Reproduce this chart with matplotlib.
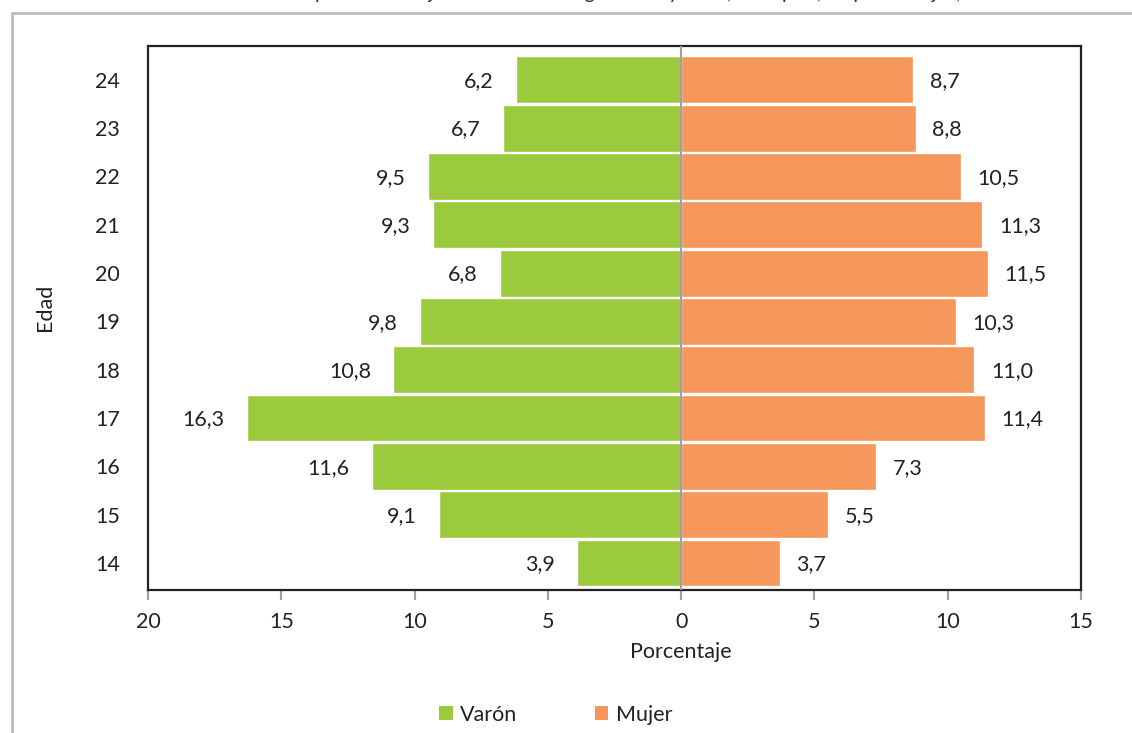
import matplotlib
matplotlib.use("Agg")
import matplotlib.pyplot as plt
from matplotlib.patches import Rectangle, Patch

plt.rcParams['font.family'] = ['Lato', 'DejaVu Sans']

edades = ["14", "15", "16", "17", "18", "19", "20", "21", "22", "23", "24"]
varon = [3.9, 9.1, 11.6, 16.3, 10.8, 9.8, 6.8, 9.3, 9.5, 6.7, 6.2]
mujer = [3.7, 5.5, 7.3, 11.4, 11.0, 10.3, 11.5, 11.3, 10.5, 8.8, 8.7]
xticks = [-20, -15, -10, -5, 0, 5, 10, 15]
xticklabels = ["20", "15", "10", "5", "0", "5", "10", "15"]

green = "#9BCA3C"
orange = "#F5965A"
txt = "#222222"
fs = 15.5

fig = plt.figure(figsize=(11.32, 7.33), dpi=100)
ax = fig.add_axes([148/1132, 1-590/733, (1081-148)/1132, (590-46)/733])

# outer frame
fig.patches.append(Rectangle((12/1132, -0.05), 1.2, 1-13/733+0.05, transform=fig.transFigure,
                             fill=False, edgecolor="#BBBBBB", linewidth=2, zorder=0))

# caption (cropped at top, as in the reference)
fig.text(25/1132, 1+1/733, "Gráfico 4.1:", color="#D6DB6A", fontsize=fs, va="baseline", ha="left")
fig.text(155/1132, 1+1/733, "Distribución de la población objeto de estudio según sexo y edad, total país, en porcentajes, 2019",
         color="#333333", fontsize=fs - 1, va="baseline", ha="left")

y = list(range(len(edades)))
ax.barh(y, [-v for v in varon], height=0.97, color=green, edgecolor="white", linewidth=1, zorder=2)
ax.barh(y, mujer, height=0.97, color=orange, edgecolor="white", linewidth=1, zorder=2)
ax.axvline(0, color="#A0A0A0", linewidth=1.5, zorder=3)

for i, (v, m) in enumerate(zip(varon, mujer)):
    ax.annotate(f"{v:.1f}".replace(".", ","), xy=(-v, i), xytext=(-16, -1), textcoords="offset points",
                ha="right", va="center", fontsize=fs, color=txt)
    ax.annotate(f"{m:.1f}".replace(".", ","), xy=(m, i), xytext=(12, -1), textcoords="offset points",
                ha="left", va="center", fontsize=fs, color=txt)

ax.set_xlim(-20, 15)
ax.set_ylim(-0.56, 10.70)
ax.set_xticks(xticks)
ax.set_xticklabels(xticklabels, fontsize=fs, color=txt)
ax.set_yticks(y)
ax.set_yticklabels(edades, fontsize=fs, color=txt)
ax.tick_params(axis="x", direction="out", length=7, width=1.5, color="#A0A0A0", pad=9)
ax.tick_params(axis="y", length=0, pad=20)
for s in ax.spines.values():
    s.set_linewidth(1.6)
    s.set_color("#222222")

ax.set_xlabel("Porcentaje", fontsize=fs, color=txt)
ax.xaxis.set_label_coords(20/35, -0.095)
ax.set_ylabel("Edad", fontsize=fs, color=txt)
ax.yaxis.set_label_coords(-0.10, 0.52)

handles = [Patch(facecolor=green, edgecolor="none", label="Varón"),
           Patch(facecolor=orange, edgecolor="none", label="Mujer")]
fig.legend(handles=handles, loc="center", bbox_to_anchor=(556/1132, 1-715/733), ncol=2,
           frameon=False, fontsize=fs, handlelength=0.62, handleheight=0.62, handletextpad=0.35,
           columnspacing=3.6, labelcolor=txt)

fig.savefig("out.png", dpi=100)
